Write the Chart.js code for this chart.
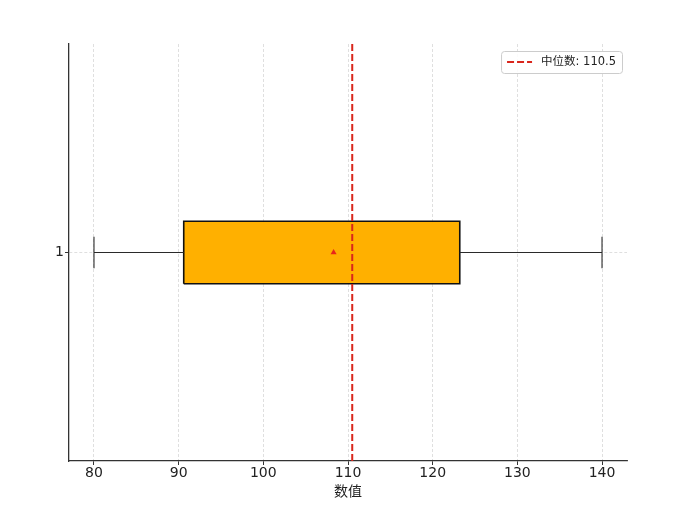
<!DOCTYPE html>
<html>
<head>
<meta charset="utf-8">
<script src="https://cdn.jsdelivr.net/npm/chart.js@4.4.0/dist/chart.umd.min.js"></script>
<style>
  html, body { margin: 0; padding: 0; background: #fff; }
  #wrap { position: relative; width: 691px; height: 532px; }
</style>
</head>
<body>
<div id="wrap"><canvas id="boxChart" width="691" height="532"></canvas></div>
<script>
'use strict';

// --- data ---
const categories = ['1'];
const whiskerLow = [80];
const q1 = [90.6];
const median = [110.5];
const q3 = [123.2];
const whiskerHigh = [140];
const means = [108.3];
const xTicks = [80, 90, 100, 110, 120, 130, 140];
const medianLabel = '中位数: ' + median[0];
const xTitle = '数值';

// --- look ---
const BOX_HALF = 0.075;
const CAP_HALF = 0.038;
const INK = '#333';
const FONT = "'DejaVu Sans', 'Noto Sans CJK SC', sans-serif";

const datasets = [];
categories.forEach((c, i) => {
  const y = i + 1;
  datasets.push({
    label: 'box', order: 10,
    data: [
      { x: q1[i], y: y - BOX_HALF }, { x: q3[i], y: y - BOX_HALF },
      { x: q3[i], y: y + BOX_HALF }, { x: q1[i], y: y + BOX_HALF },
      { x: q1[i], y: y - BOX_HALF },
    ],
    showLine: true, fill: 'shape',
    backgroundColor: '#ffb000', borderColor: '#111', borderWidth: 1.6,
    pointRadius: 0,
  });
  const seg = (a, b, c2, d) => ({
    label: 'whisker', order: 8,
    data: [{ x: a, y: b }, { x: c2, y: d }],
    showLine: true, borderColor: '#2a2a2a', borderWidth: 1.1, pointRadius: 0,
  });
  datasets.push(seg(whiskerLow[i], y, q1[i], y));
  datasets.push(seg(q3[i], y, whiskerHigh[i], y));
  datasets.push(seg(whiskerLow[i], y - CAP_HALF, whiskerLow[i], y + CAP_HALF));
  datasets.push(seg(whiskerHigh[i], y - CAP_HALF, whiskerHigh[i], y + CAP_HALF));
  datasets.push({
    label: 'mean', order: 2,
    data: [{ x: means[i], y: y }],
    pointStyle: 'triangle', pointRadius: 3.5,
    backgroundColor: '#e8261a', borderColor: '#e8261a', borderWidth: 0,
  });
});
datasets.push({
  label: medianLabel, order: 0, isMedian: true,
  data: [{ x: median[0], y: 0.5 }, { x: median[0], y: 1.5 }],
  showLine: true, borderColor: '#d9261c', borderWidth: 2, borderDash: [7, 3],
  pointRadius: 0,
});

// legend drawn inside the plot, top right
const innerLegend = {
  id: 'innerLegend',
  afterDatasetsDraw(chart) {
    const { ctx, chartArea } = chart;
    const ds = chart.data.datasets.find(d => d.isMedian);
    ctx.save();
    ctx.font = '11.5px ' + FONT;
    const tw = ctx.measureText(ds.label).width;
    const w = 6 + 25 + 9 + tw + 6;
    const h = 22;
    const x = chartArea.right - 5 - w;
    const y = chartArea.top + 7;
    ctx.fillStyle = 'rgba(255,255,255,0.85)';
    ctx.strokeStyle = '#ccc';
    ctx.lineWidth = 1;
    ctx.beginPath();
    ctx.roundRect(x + 0.5, y + 0.5, w, h, 3);
    ctx.fill();
    ctx.stroke();
    ctx.strokeStyle = ds.borderColor;
    ctx.lineWidth = ds.borderWidth;
    ctx.setLineDash(ds.borderDash);
    ctx.beginPath();
    ctx.moveTo(x + 6, y + h / 2);
    ctx.lineTo(x + 31, y + h / 2);
    ctx.stroke();
    ctx.setLineDash([]);
    ctx.fillStyle = '#222';
    ctx.textBaseline = 'middle';
    ctx.fillText(ds.label, x + 40, y + h / 2 + 0.5);
    ctx.restore();
  },
};

new Chart(document.getElementById('boxChart').getContext('2d'), {
  type: 'scatter',
  data: { datasets },
  options: {
    responsive: false,
    animation: false,
    layout: { padding: { top: 44, right: 64, left: 0, bottom: 0 } },
    plugins: { legend: { display: false }, tooltip: { enabled: false } },
    scales: {
      x: {
        type: 'linear', position: 'bottom',
        min: 77.05, max: 142.95,
        afterBuildTicks: (axis) => { axis.ticks = xTicks.map(v => ({ value: v })); },
        afterFit: (axis) => { axis.height = 71; },
        ticks: { color: '#222', padding: 0, font: { family: FONT, size: 14 } },
        grid: { color: 'rgba(0,0,0,0.16)', tickColor: INK, tickLength: 4, lineWidth: 0.8, tickWidth: 1 },
        border: { color: INK, width: 1.3, dash: [3, 2] },
        title: {
          display: true, text: xTitle, color: '#222',
          font: { family: FONT, size: 14 }, padding: { top: 0, bottom: 31 },
        },
      },
      y: {
        type: 'linear', position: 'left',
        min: 0.5, max: 1.5,
        afterBuildTicks: (axis) => { axis.ticks = categories.map((c, i) => ({ value: i + 1 })); },
        afterFit: (axis) => { axis.width = 69; },
        ticks: {
          color: '#222', padding: 1, font: { family: FONT, size: 14 },
          callback: (v) => categories[Math.round(v) - 1],
        },
        grid: { color: 'rgba(0,0,0,0.16)', tickColor: INK, tickLength: 4, lineWidth: 0.8, tickWidth: 1 },
        border: { color: INK, width: 1.3, dash: [3, 2] },
      },
    },
  },
  plugins: [innerLegend],
});
</script>
</body>
</html>
